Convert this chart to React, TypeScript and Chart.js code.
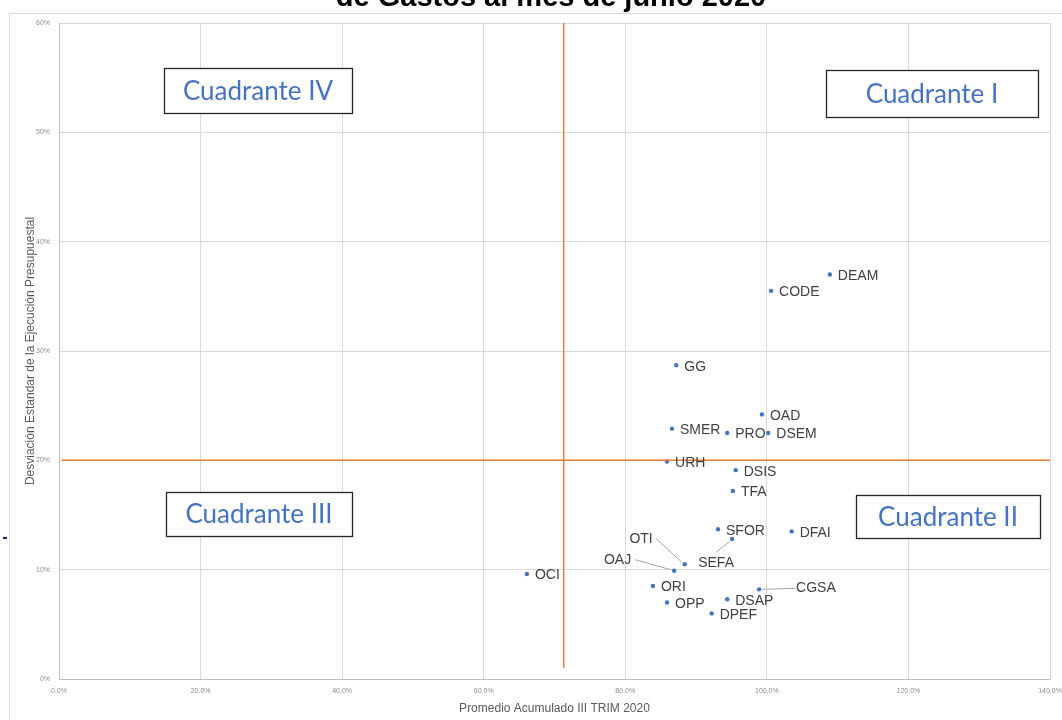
import React, { useEffect, useRef } from "react";
import { Chart, registerables } from "chart.js";

Chart.register(...registerables);

// ---- data ----
const codes = ["DEAM", "CODE", "GG", "OAD", "SMER", "PRO", "DSEM", "URH", "DSIS", "TFA", "SFOR", "DFAI", "SEFA", "OTI", "OAJ", "OCI", "ORI", "CGSA", "OPP", "DSAP", "DPEF"];
const promedio = [108.9, 100.6, 87.2, 99.3, 86.6, 94.4, 100.2, 85.9, 95.6, 95.2, 93.1, 103.5, 95.1, 88.4, 86.9, 66.1, 83.9, 98.9, 85.9, 94.4, 92.2];
const desviacion = [37.0, 35.5, 28.7, 24.2, 22.9, 22.5, 22.5, 19.9, 19.1, 17.2, 13.7, 13.5, 12.8, 10.5, 9.9, 9.6, 8.5, 8.2, 7.0, 7.3, 6.0];
const xTickValues = [0, 20, 40, 60, 80, 100, 120, 140];
const yTickValues = [0, 10, 20, 30, 40, 50, 60];
const umbralPromedio = 71.3;
const umbralDesviacion = 20;
const lineaVertical = [{ x: umbralPromedio, y: 60 }, { x: umbralPromedio, y: 1 }];
const lineaHorizontal = [{ x: 0.4, y: umbralDesviacion }, { x: 140, y: umbralDesviacion }];
const quadrantNames = ["Cuadrante IV", "Cuadrante I", "Cuadrante III", "Cuadrante II"];
const titleText = "de Gastos al mes de junio 2020";
const xTitle = "Promedio Acumulado III TRIM 2020";
const yTitle = "Desviación Estandar de la Ejecución Presupuestal";

// ---- layout (pixels) ----
const quadrantBoxes = [
  { x: 164, y: 68, w: 188, h: 45 },
  { x: 826, y: 70, w: 212, h: 47 },
  { x: 166, y: 492, w: 186, h: 44 },
  { x: 856, y: 495, w: 184, h: 43 },
];
// labels with leader lines: label anchor offset from dot, alignment, and leader line endpoints (relative to dot)
const callouts: Record<string, { dx: number; dy: number; align: CanvasTextAlign; l: [number, number, number, number] }> = {
  OTI: { dx: -32, dy: -25, align: "right", l: [-29, -26, -3, -2] },
  OAJ: { dx: -43, dy: -11, align: "right", l: [-39, -11, -3, -1] },
  SEFA: { dx: -34, dy: 24, align: "left", l: [-16, 13, -2, 2] },
  CGSA: { dx: 37, dy: -1, align: "left", l: [36, -1, 3, 0] },
};

const FONT = "'Liberation Sans', Arial, sans-serif";

const decorPlugin = {
  id: "decor",
  beforeDraw(chart: any) {
    const ctx = chart.ctx;
    ctx.save();
    ctx.fillStyle = "#ffffff";
    ctx.fillRect(0, 0, chart.width, chart.height);
    ctx.strokeStyle = "#d9d9d9";
    ctx.lineWidth = 1;
    ctx.strokeRect(9.5, 13.5, 1200, 900);
    ctx.fillStyle = "#1f1f8f";
    ctx.fillRect(3, 537, 4, 2);
    ctx.fillStyle = "#000000";
    ctx.font = `bold 29px ${FONT}`;
    ctx.textAlign = "center";
    ctx.textBaseline = "alphabetic";
    ctx.fillText(titleText, 551, 6);
    ctx.restore();
  },
  afterDatasetsDraw(chart: any) {
    const ctx = chart.ctx;
    const meta = chart.getDatasetMeta(2);
    ctx.save();
    ctx.font = `14px ${FONT}`;
    ctx.fillStyle = "#404040";
    ctx.textBaseline = "middle";
    meta.data.forEach((pt: any, i: number) => {
      const name = codes[i];
      const c = callouts[name];
      if (c) {
        ctx.strokeStyle = "#a6a6a6";
        ctx.lineWidth = 1;
        ctx.beginPath();
        ctx.moveTo(pt.x + c.l[0], pt.y + c.l[1]);
        ctx.lineTo(pt.x + c.l[2], pt.y + c.l[3]);
        ctx.stroke();
        ctx.textAlign = c.align;
        ctx.fillText(name, pt.x + c.dx, pt.y + c.dy);
      } else {
        ctx.textAlign = "left";
        ctx.fillText(name, pt.x + 8, pt.y + 1.5);
      }
    });
    // quadrant boxes
    quadrantBoxes.forEach((b, i) => {
      ctx.fillStyle = "#ffffff";
      ctx.fillRect(b.x, b.y, b.w, b.h);
      ctx.strokeStyle = "#262626";
      ctx.lineWidth = 1.3;
      ctx.strokeRect(b.x + 0.5, b.y + 0.5, b.w, b.h);
      ctx.fillStyle = "#4472c4";
      ctx.font = `26px Lato, 'Open Sans', sans-serif`;
      ctx.textAlign = "center";
      ctx.textBaseline = "middle";
      ctx.fillText(quadrantNames[i], b.x + b.w / 2, b.y + b.h / 2 + 1);
    });
    ctx.restore();
  },
};

export default function App() {
  const ref = useRef<HTMLCanvasElement>(null);
  useEffect(() => {
    if (!ref.current) return;
    const chart = new Chart(ref.current, {
      type: "scatter",
      data: {
        datasets: [
          {
            data: lineaVertical,
            showLine: true,
            borderColor: "#ed7d31",
            borderWidth: 1.5,
            pointRadius: 0,
          },
          {
            data: lineaHorizontal,
            showLine: true,
            borderColor: "#ed7d31",
            borderWidth: 1.5,
            pointRadius: 0,
          },
          {
            data: codes.map((_, i) => ({ x: promedio[i], y: desviacion[i] })),
            pointRadius: 2.2,
            pointBackgroundColor: "#4472c4",
            pointBorderWidth: 0,
            borderColor: "#4472c4",
          },
        ],
      },
      options: {
        animation: false,
        responsive: false,
        layout: { padding: { left: 0, right: 12, top: 23, bottom: 0 } },
        plugins: { legend: { display: false }, tooltip: { enabled: false } },
        scales: {
          x: {
            type: "linear",
            min: 0,
            max: 140,
            afterBuildTicks: (s: any) => {
              s.ticks = xTickValues.map((v) => ({ value: v }));
            },
            afterFit: (s: any) => {
              s.height = 41;
              s.paddingLeft = 0;
              s.paddingRight = 0;
            },
            grid: { color: "#d9d9d9", drawTicks: false },
            border: { color: "#bfbfbf" },
            ticks: {
              padding: 8,
              maxRotation: 0,
              color: "#8c8c8c",
              font: { size: 7, family: FONT },
              callback: (v: any) => Number(v).toFixed(1) + "%",
            },
            title: {
              display: true,
              text: xTitle,
              color: "#595959",
              font: { size: 12, family: FONT },
              padding: { top: 0, bottom: 4 },
            },
          },
          y: {
            type: "linear",
            min: 0,
            max: 60,
            afterBuildTicks: (s: any) => {
              s.ticks = yTickValues.map((v) => ({ value: v }));
            },
            afterFit: (s: any) => {
              s.width = 59;
              s.paddingTop = 0;
              s.paddingBottom = 0;
            },
            grid: { color: "#d9d9d9", drawTicks: false },
            border: { color: "#bfbfbf" },
            ticks: {
              padding: 9,
              color: "#8c8c8c",
              font: { size: 7, family: FONT },
              callback: (v: any) => Number(v).toFixed(0) + "%",
            },
            title: {
              display: true,
              text: yTitle,
              color: "#595959",
              font: { size: 12, family: FONT },
              padding: { top: 23, bottom: 0 },
            },
          },
        },
      },
      plugins: [decorPlugin],
    } as any);
    return () => chart.destroy();
  }, []);
  return (
    <div style={{ position: "absolute", left: 0, top: 0, width: 1062, height: 720, background: "#fff" }}>
      <canvas ref={ref} width={1062} height={720} style={{ display: "block" }} />
    </div>
  );
}
